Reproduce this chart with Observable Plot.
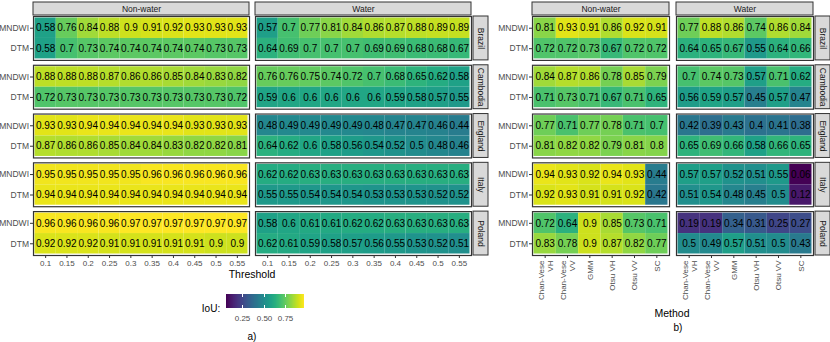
<!DOCTYPE html>
<html>
<head>
<meta charset="utf-8">
<script src="https://cdn.jsdelivr.net/npm/d3@7"></script>
<script src="https://cdn.jsdelivr.net/npm/@observablehq/plot@0.6"></script>
<style>
  html, body { margin: 0; padding: 0; background: #fff; }
  #root { position: relative; width: 830px; height: 342px; overflow: hidden;
          font-family: 'Liberation Sans', Arial, Helvetica, sans-serif; background: #fff; }
  .lbl { position: absolute; transform: translate(-50%, -50%); white-space: nowrap; color: #000; font-size: 10px; line-height: 1; }
</style>
</head>
<body>
<div id="root"></div>
<script>
const FONT = "'Liberation Sans', Arial, Helvetica, sans-serif";

// ---- categories ----
const countries = ["Brazil", "Cambodia", "England", "Italy", "Poland"];
const classes = ["Non-water", "Water"];
const indices = ["MNDWI", "DTM"];
const thresholds = [0.1, 0.15, 0.2, 0.25, 0.3, 0.35, 0.4, 0.45, 0.5, 0.55];
const methods = ["Chan-Vese\nVH", "Chan-Vese\nVV", "GMM", "Otsu VH", "Otsu VV", "SC"];

// ---- a) IoU by threshold (rows = countries, cols = thresholds) ----
const thresholdNonWaterMNDWI = [
  [0.58, 0.76, 0.84, 0.88, 0.90, 0.91, 0.92, 0.93, 0.93, 0.93],
  [0.88, 0.88, 0.88, 0.87, 0.86, 0.86, 0.85, 0.84, 0.83, 0.82],
  [0.93, 0.93, 0.94, 0.94, 0.94, 0.94, 0.94, 0.93, 0.93, 0.93],
  [0.95, 0.95, 0.95, 0.95, 0.95, 0.96, 0.96, 0.96, 0.96, 0.96],
  [0.96, 0.96, 0.96, 0.96, 0.97, 0.97, 0.97, 0.97, 0.97, 0.97]
];
const thresholdNonWaterDTM = [
  [0.58, 0.70, 0.73, 0.74, 0.74, 0.74, 0.74, 0.74, 0.73, 0.73],
  [0.72, 0.73, 0.73, 0.73, 0.73, 0.73, 0.73, 0.73, 0.73, 0.72],
  [0.87, 0.86, 0.86, 0.85, 0.84, 0.84, 0.83, 0.82, 0.82, 0.81],
  [0.94, 0.94, 0.94, 0.94, 0.94, 0.94, 0.94, 0.94, 0.94, 0.94],
  [0.92, 0.92, 0.92, 0.91, 0.91, 0.91, 0.91, 0.91, 0.90, 0.90]
];
const thresholdWaterMNDWI = [
  [0.57, 0.70, 0.77, 0.81, 0.84, 0.86, 0.87, 0.88, 0.89, 0.89],
  [0.76, 0.76, 0.75, 0.74, 0.72, 0.70, 0.68, 0.65, 0.62, 0.58],
  [0.48, 0.49, 0.49, 0.49, 0.49, 0.48, 0.47, 0.47, 0.46, 0.44],
  [0.62, 0.62, 0.63, 0.63, 0.63, 0.63, 0.63, 0.63, 0.63, 0.63],
  [0.58, 0.60, 0.61, 0.61, 0.62, 0.62, 0.63, 0.63, 0.63, 0.63]
];
const thresholdWaterDTM = [
  [0.64, 0.69, 0.70, 0.70, 0.70, 0.69, 0.69, 0.68, 0.68, 0.67],
  [0.59, 0.60, 0.60, 0.60, 0.60, 0.60, 0.59, 0.58, 0.57, 0.55],
  [0.64, 0.62, 0.60, 0.58, 0.56, 0.54, 0.52, 0.50, 0.48, 0.46],
  [0.55, 0.55, 0.54, 0.54, 0.54, 0.53, 0.53, 0.53, 0.52, 0.52],
  [0.62, 0.61, 0.59, 0.58, 0.57, 0.56, 0.55, 0.53, 0.52, 0.51]
];

// ---- b) IoU by method (rows = countries, cols = methods) ----
const methodNonWaterMNDWI = [
  [0.81, 0.93, 0.91, 0.86, 0.92, 0.91],
  [0.84, 0.87, 0.86, 0.78, 0.85, 0.79],
  [0.77, 0.71, 0.77, 0.78, 0.71, 0.70],
  [0.94, 0.93, 0.92, 0.94, 0.93, 0.44],
  [0.72, 0.64, 0.90, 0.85, 0.73, 0.71]
];
const methodNonWaterDTM = [
  [0.72, 0.72, 0.73, 0.67, 0.72, 0.72],
  [0.71, 0.73, 0.71, 0.67, 0.71, 0.65],
  [0.81, 0.82, 0.82, 0.79, 0.81, 0.80],
  [0.92, 0.93, 0.91, 0.91, 0.92, 0.42],
  [0.83, 0.78, 0.90, 0.87, 0.82, 0.77]
];
const methodWaterMNDWI = [
  [0.77, 0.88, 0.86, 0.74, 0.86, 0.84],
  [0.70, 0.74, 0.73, 0.57, 0.71, 0.62],
  [0.42, 0.39, 0.43, 0.40, 0.41, 0.38],
  [0.57, 0.57, 0.52, 0.51, 0.55, 0.06],
  [0.19, 0.19, 0.34, 0.31, 0.25, 0.27]
];
const methodWaterDTM = [
  [0.64, 0.65, 0.67, 0.55, 0.64, 0.66],
  [0.56, 0.59, 0.57, 0.45, 0.57, 0.47],
  [0.65, 0.69, 0.66, 0.58, 0.66, 0.65],
  [0.51, 0.54, 0.48, 0.45, 0.50, 0.12],
  [0.50, 0.49, 0.57, 0.51, 0.50, 0.43]
];

function tidy(keys, tables) {
  const rows = [];
  for (const [cls, idx, table] of tables)
    countries.forEach((country, ci) =>
      keys.forEach((key, ki) => rows.push({country, cls, idx, key, value: table[ci][ki]})));
  return rows;
}
const rowsA = tidy(thresholds, [
  ["Non-water", "MNDWI", thresholdNonWaterMNDWI], ["Non-water", "DTM", thresholdNonWaterDTM],
  ["Water", "MNDWI", thresholdWaterMNDWI], ["Water", "DTM", thresholdWaterDTM]
]);
const rowsB = tidy(methods, [
  ["Non-water", "MNDWI", methodNonWaterMNDWI], ["Non-water", "DTM", methodNonWaterDTM],
  ["Water", "MNDWI", methodWaterMNDWI], ["Water", "DTM", methodWaterDTM]
]);
const colorDomain = d3.extent([...rowsA, ...rowsB], d => d.value);

function facetChart({rows, keys, width, height, left, right, top, bottom, fxGap, xAxisOptions}) {
  const frameW = width - left - right, frameH = height - top - bottom;
  const fxPad = fxGap / ((frameW + fxGap) / 2);
  const fxBw = frameW / (2 - fxPad) * (1 - fxPad);
  const fyPad = 0.1;
  const fyBw = frameH / (countries.length - fyPad) * (1 - fyPad);
  const topStrip = classes.map(cls => ({cls, country: countries[0]}));
  const sideStrip = countries.map(country => ({cls: classes[classes.length - 1], country}));
  return Plot.plot({
    width, height,
    marginTop: top, marginRight: right, marginBottom: bottom, marginLeft: left,
    style: {fontFamily: FONT, background: "transparent", overflow: "visible"},
    fx: {domain: classes, paddingInner: fxPad, paddingOuter: 0, round: false, axis: null, label: null},
    fy: {domain: countries, paddingInner: fyPad, paddingOuter: 0, round: false, axis: null, label: null},
    x: {domain: keys, type: "band", padding: 0, inset: 1.5, round: false},
    y: {domain: indices, type: "band", padding: 0, inset: 1.5, round: false},
    color: {type: "linear", scheme: "viridis", domain: colorDomain},
    marks: [
      Plot.cell(rows, {x: "key", y: "idx", fx: "cls", fy: "country", fill: "value", inset: 0}),
      Plot.text(rows, {x: "key", y: "idx", fx: "cls", fy: "country", text: d => String(d.value),
        fontSize: 10, fill: "#000"}),
      Plot.frame({stroke: "#333", strokeWidth: 1.2}),
      Plot.rect(topStrip, {fx: "cls", fy: "country", insetTop: -14, insetBottom: fyBw + 1,
        fill: "#d9d9d9", stroke: "#333", strokeWidth: 1}),
      Plot.text(topStrip, {fx: "cls", fy: "country", text: "cls", frameAnchor: "top", dy: -7.5,
        lineAnchor: "middle", textAnchor: "middle", fontSize: 8.5, fill: "#1a1a1a"}),
      Plot.rect(sideStrip, {fx: "cls", fy: "country", insetLeft: fxBw + 2, insetRight: -17,
        fill: "#d9d9d9", stroke: "#333", strokeWidth: 1}),
      Plot.text(sideStrip, {fx: "cls", fy: "country", text: "country", frameAnchor: "right", dx: 9.5,
        rotate: 90, textAnchor: "middle", lineAnchor: "middle", fontSize: 8.5, fill: "#1a1a1a"}),
      Plot.axisX({label: null, fontSize: 8, tickSize: 3, tickPadding: 1.5, fill: "#4d4d4d", stroke: "#333", ...xAxisOptions}),
      Plot.axisY({label: null, fontSize: 8.5, tickSize: 3, tickPadding: 1.5, fill: "#4d4d4d", stroke: "#333"})
    ]
  });
}

const root = document.getElementById("root");

const chartA = facetChart({rows: rowsA, keys: thresholds, width: 490, height: 272,
  left: 33, right: 19, top: 16, bottom: 17, fxGap: 6, xAxisOptions: {}});
chartA.style.position = "absolute"; chartA.style.left = "0px"; chartA.style.top = "0px";
root.appendChild(chartA);

const chartB = facetChart({rows: rowsB, keys: methods, width: 340, height: 306,
  left: 42, right: 17, top: 16, bottom: 51, fxGap: 7,
  xAxisOptions: {tickRotate: -90, lineHeight: 1.15, tickPadding: 2}});
chartB.style.position = "absolute"; chartB.style.left = "490px"; chartB.style.top = "0px";
root.appendChild(chartB);

// colour legend
const legend = Plot.legend({
  color: {type: "linear", scheme: "viridis", domain: colorDomain},
  label: null, width: 80, height: 30, marginTop: 0, marginBottom: 16, marginLeft: 1, marginRight: 1,
  tickSize: 4, ticks: [0.25, 0.5, 0.75], tickFormat: d => d.toFixed(2),
  style: {fontSize: "8px", color: "#4d4d4d", fontFamily: FONT, background: "transparent"}
});
d3.select(legend).selectAll(".tick line").attr("stroke", "white").attr("stroke-dasharray", "3 8 3 20");
legend.style.position = "absolute"; legend.style.left = "225px"; legend.style.top = "294px";
legend.style.margin = "0";
root.appendChild(legend);

function label(text, x, y, size = 10, color = "#000") {
  const el = document.createElement("div");
  el.className = "lbl";
  el.textContent = text;
  el.style.left = x + "px"; el.style.top = y + "px";
  el.style.fontSize = size + "px"; el.style.color = color;
  root.appendChild(el);
}
label("Threshold", 252, 274, 10.5);
label("Method", 672, 313, 10.5);
label("IoU:", 211, 309, 10);
label("a)", 252, 337, 10);
label("b)", 678, 328, 10);
</script>
</body>
</html>
